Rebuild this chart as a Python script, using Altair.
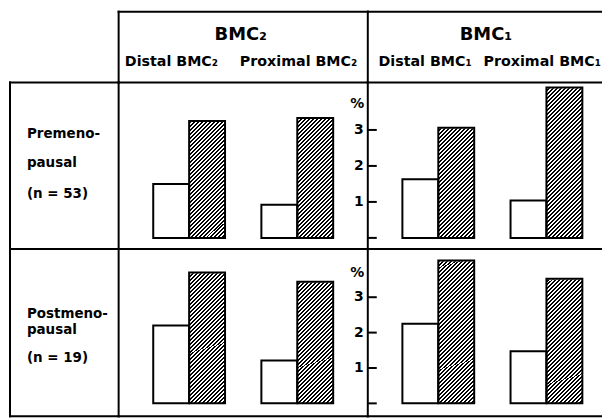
import altair as alt
import pandas as pd

# ---------------- data ----------------
panels = ["BMC₂", "BMC₁"]
panel_site_labels = [["Distal BMC₂", "Proximal BMC₂"], ["Distal BMC₁", "Proximal BMC₁"]]
sites = ["Distal", "Proximal"]
bar_types = ["open", "hatched"]
groups = ["Premenopausal", "Postmenopausal"]
group_label_lines = [["Premeno-", "pausal", "(n = 53)"], ["Postmeno-", "pausal", "(n = 19)"]]
y_tick_values = [0, 1, 2, 3]
y_tick_labels = ["", "1", "2", "3"]
y_unit = "%"

# values per site (Distal, Proximal)
pre_bmc2_open = [1.50, 0.92]
pre_bmc2_hatched = [3.25, 3.33]
pre_bmc1_open = [1.63, 1.04]
pre_bmc1_hatched = [3.06, 4.18]
post_bmc2_open = [2.20, 1.21]
post_bmc2_hatched = [3.70, 3.44]
post_bmc1_open = [2.25, 1.47]
post_bmc1_hatched = [4.04, 3.52]

series = {
    ("Premenopausal", "BMC₂"): (pre_bmc2_open, pre_bmc2_hatched),
    ("Premenopausal", "BMC₁"): (pre_bmc1_open, pre_bmc1_hatched),
    ("Postmenopausal", "BMC₂"): (post_bmc2_open, post_bmc2_hatched),
    ("Postmenopausal", "BMC₁"): (post_bmc1_open, post_bmc1_hatched),
}
records = []
for (g, p), (op, ha) in series.items():
    for s, vo, vh in zip(sites, op, ha):
        records.append({"group": g, "panel": p, "site": s, "type": "open", "value": vo})
        records.append({"group": g, "panel": p, "site": s, "type": "hatched", "value": vh})
df = pd.DataFrame(records)
ticks_df = pd.DataFrame({"t": y_tick_values, "lab": y_tick_labels})
dummy = pd.DataFrame({"k": [0]})

# ---------------- layout / style ----------------
FONT = "DejaVu Sans"
LAB_W, P2_W, P1_W = 109, 250, 235
HDR_H = 71
ROW_H = [167, 168]
ROW_DOM = [[-0.305, 4.32], [-0.366, 4.366]]
ROW_LABEL_Y = [[56, 85, 116], [69, 85, 114]]
UNIT_Y = [21, 23]
HDR_TITLE_X = [122.5, 118.5]
HDR_SUB_X = [[53, 180.5], [57.5, 175]]
HALF = 1  # half line width

# diagonal hatch as a striped linear gradient (bbox units)
BAR_W, HATCH_H, PITCH = 36.0, 156.0, 4.0
S = BAR_W + HATCH_H
k = S / (BAR_W ** 2 + HATCH_H ** 2)
stops = []
i = 0
while i * PITCH < S:
    t0 = min(i * PITCH / S, 1.0)
    t1 = min((i * PITCH + PITCH * 0.5) / S, 1.0)
    t2 = min((i + 1) * PITCH / S, 1.0)
    stops += [
        {"offset": t0, "color": "black"},
        {"offset": t1, "color": "black"},
        {"offset": t1, "color": "white"},
        {"offset": t2, "color": "white"},
    ]
    i += 1
GRAD = {"gradient": "linear", "x1": 0, "y1": 0, "x2": k * BAR_W, "y2": k * HATCH_H, "stops": stops}


def hline(y, x0, x1):
    return alt.Chart(dummy).mark_rect(color="black", strokeWidth=0).encode(
        x=alt.value(x0 - HALF), x2=alt.value(x1 + HALF),
        y=alt.value(y - HALF), y2=alt.value(y + HALF))


def vline(x, y0, y1):
    return alt.Chart(dummy).mark_rect(color="black", strokeWidth=0).encode(
        x=alt.value(x - HALF), x2=alt.value(x + HALF),
        y=alt.value(y0 - HALF), y2=alt.value(y1 + HALF))


def text(t, x, y, size, align="left"):
    return alt.Chart(dummy).mark_text(
        text=t, font=FONT, fontSize=size, fontWeight="bold", color="black",
        align=align, baseline="alphabetic").encode(x=alt.value(x), y=alt.value(y))


def right_end(pi, w):
    # BMC1 column runs to the right edge of the drawing
    return w - HALF if pi == 1 else w


# header row
hdr_blank = alt.layer(
    alt.Chart(dummy).mark_rect(opacity=0).encode(
        x=alt.value(2), x2=alt.value(3), y=alt.value(2), y2=alt.value(3))
).properties(width=LAB_W, height=HDR_H)

hdr_cells = []
for pi, p in enumerate(panels):
    w = [P2_W, P1_W][pi]
    layers = [hline(0, 0, right_end(pi, w)), vline(0, 0, HDR_H),
              text(p, HDR_TITLE_X[pi], 28, 18, "center")]
    for si, lab in enumerate(panel_site_labels[pi]):
        layers.append(text(lab, HDR_SUB_X[pi][si], 55, 14.3, "center"))
    hdr_cells.append(alt.layer(*layers).properties(width=w, height=HDR_H))


def panel_cell(ri, pi):
    g, p = groups[ri], panels[pi]
    h = ROW_H[ri]
    w = [P2_W, P1_W][pi]
    dom = ROW_DOM[ri]
    sub = df[(df.group == g) & (df.panel == p)]
    xs = alt.Scale(domain=sites, range=[0, 250], paddingInner=0.336, paddingOuter=0.32)
    xo = alt.Scale(domain=bar_types, paddingInner=0, paddingOuter=0)
    ys = alt.Scale(domain=dom, nice=False, zero=False)
    X = alt.X("site:N", scale=xs, axis=None)
    XO = alt.XOffset("type:N", scale=xo)
    base = alt.Chart(sub)
    hatch = base.transform_filter("datum.type == 'hatched'").mark_bar(
        fill=GRAD, strokeWidth=0).encode(
        x=X, xOffset=XO,
        y=alt.YDatum(dom[1], type="quantitative", scale=ys, axis=None),
        y2=alt.Y2Datum(0))
    mask = base.transform_filter("datum.type == 'hatched'").mark_bar(
        fill="white", stroke="white", strokeWidth=1.5).encode(
        x=X, xOffset=XO,
        y=alt.Y("value:Q", scale=ys, axis=None),
        y2=alt.Y2Datum(dom[1]))
    outline = base.mark_bar(fillOpacity=0, stroke="black", strokeWidth=2).encode(
        x=X, xOffset=XO,
        y=alt.Y("value:Q", scale=ys, axis=None),
        y2=alt.Y2Datum(0))
    right = right_end(pi, w)
    layers = [hatch, mask, outline, hline(0, 0, right), vline(0, 0, h)]
    if pi == 1:
        tick_marks = alt.Chart(ticks_df).mark_rule(color="black", strokeWidth=2).encode(
            x=alt.value(0), x2=alt.value(9),
            y=alt.Y("t:Q", scale=ys, axis=None))
        tick_labels = alt.Chart(ticks_df).transform_filter("datum.lab != ''").mark_text(
            font=FONT, fontSize=14, fontWeight="bold", color="black",
            align="right", baseline="middle").encode(
            x=alt.value(-4), y=alt.Y("t:Q", scale=ys, axis=None), text="lab:N")
        unit = text(y_unit, -10.5, UNIT_Y[ri] + 5, 14, "center")
        layers += [tick_marks, tick_labels, unit]
    if ri == 1:
        layers.append(hline(h, 0, right))
    return alt.layer(*layers).properties(width=w, height=h)


def label_cell(ri):
    h = ROW_H[ri]
    layers = [hline(0, 0, LAB_W), vline(0, 0, h)]
    for li, line in enumerate(group_label_lines[ri]):
        layers.append(text(line, 17, ROW_LABEL_Y[ri][li], 13.5, "left"))
    if ri == 1:
        layers.append(hline(h, 0, LAB_W))
    return alt.layer(*layers).properties(width=LAB_W, height=h)


cells = [hdr_blank] + hdr_cells
for ri in range(2):
    cells += [label_cell(ri), panel_cell(ri, 0), panel_cell(ri, 1)]

chart = alt.concat(*cells, columns=3, spacing=0, bounds="flush").properties(
    padding={"top": 1, "left": 0, "right": 0, "bottom": 0},
    background="white",
).configure_view(stroke="transparent")

chart.save("out.html", embed_options={"renderer": "svg", "actions": False})
